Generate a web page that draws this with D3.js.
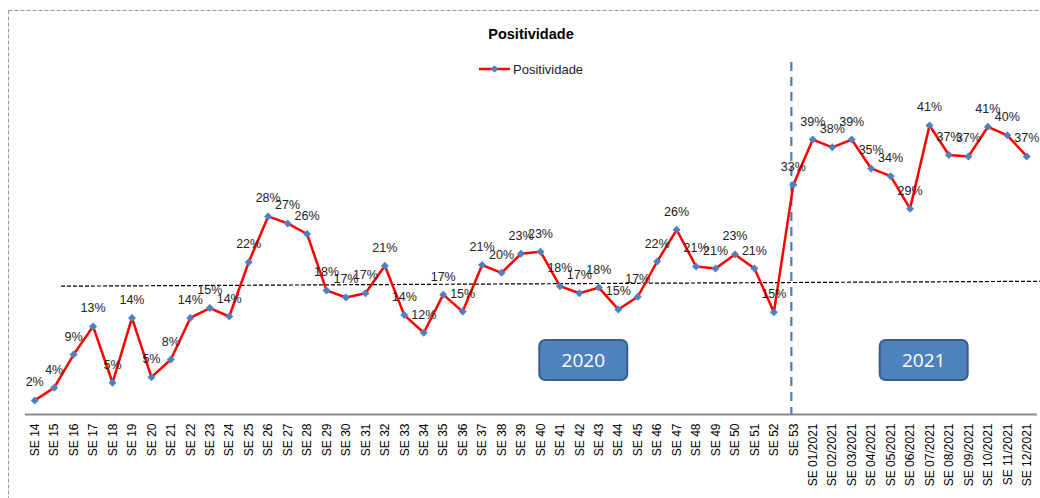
<!DOCTYPE html>
<html>
<head>
<meta charset="utf-8">
<script src="https://cdn.jsdelivr.net/npm/d3@7"></script>
<style>
  html, body { margin: 0; padding: 0; background: #fff; }
  svg { display: block; font-family: "Liberation Sans", Arial, sans-serif; }
</style>
</head>
<body>
<script>
// epidemiological weeks
const weeks = [
  "SE 14", "SE 15", "SE 16", "SE 17", "SE 18", "SE 19", "SE 20", "SE 21", "SE 22", "SE 23",
  "SE 24", "SE 25", "SE 26", "SE 27", "SE 28", "SE 29", "SE 30", "SE 31", "SE 32", "SE 33",
  "SE 34", "SE 35", "SE 36", "SE 37", "SE 38", "SE 39", "SE 40", "SE 41", "SE 42", "SE 43",
  "SE 44", "SE 45", "SE 46", "SE 47", "SE 48", "SE 49", "SE 50", "SE 51", "SE 52", "SE 53",
  "SE 01/2021", "SE 02/2021", "SE 03/2021", "SE 04/2021", "SE 05/2021", "SE 06/2021",
  "SE 07/2021", "SE 08/2021", "SE 09/2021", "SE 10/2021", "SE 11/2021", "SE 12/2021"
];

// positivity (%) per week
const positividade = [
  2.0, 3.8, 8.5, 12.5, 4.5, 13.7, 5.3, 7.8, 13.7, 15.1,
  13.9, 21.6, 28.1, 27.1, 25.6, 17.6, 16.6, 17.2, 21.1, 14.1,
  11.6, 17.0, 14.6, 21.2, 20.1, 22.8, 23.1, 18.2, 17.2, 18.0,
  14.9, 16.7, 21.7, 26.2, 21.0, 20.7, 22.7, 20.7, 14.5, 32.6,
  39.0, 37.9, 39.0, 34.9, 33.8, 29.2,
  41.0, 36.8, 36.6, 40.8, 39.6, 36.6
];

// dashed reference line (index along weeks, value %)
const refLine = [
  { i: 1.35, v: 18.2 },
  { i: 51.8, v: 18.9 }
];

const yearBoxes = [
  { label: "2020", i: 28.2 },
  { label: "2021", i: 45.7 }
];

const splitWeek = "SE 53";

const width = 1040, height = 498;

const svg = d3.select("body").append("svg")
  .attr("width", width)
  .attr("height", height);

// chart area border (dashed)
svg.append("rect")
  .attr("x", 8.5).attr("y", 10.5)
  .attr("width", 1100).attr("height", 600)
  .attr("fill", "none")
  .attr("stroke", "#9a9a9a")
  .attr("stroke-width", 1)
  .attr("stroke-dasharray", "4,2");

const x = d3.scaleBand()
  .domain(weeks)
  .range([25, 1036.5]);

const xi = d3.scaleLinear()
  .domain([0, weeks.length - 1])
  .range([x(weeks[0]) + x.bandwidth() / 2, x(weeks[weeks.length - 1]) + x.bandwidth() / 2]);

const y = d3.scaleLinear()
  .domain([0, 40])
  .range([414.5, 132.5]);

const cx = d => x(d) + x.bandwidth() / 2;

// title
svg.append("text")
  .attr("x", 531).attr("y", 39)
  .attr("text-anchor", "middle")
  .attr("font-size", 14.5)
  .attr("font-weight", "bold")
  .attr("fill", "#000")
  .text("Positividade");

// legend
const legend = svg.append("g").attr("transform", "translate(479,69)");
legend.append("line")
  .attr("x1", 0).attr("x2", 31)
  .attr("stroke", "#ff0000").attr("stroke-width", 2.5);
legend.append("path")
  .attr("d", d3.symbol(d3.symbolSquare, 30)())
  .attr("transform", "translate(15.5,0) rotate(45)")
  .attr("fill", "#4f81bd");
legend.append("text")
  .attr("x", 34).attr("y", 5)
  .attr("font-size", 13)
  .attr("fill", "#222")
  .text("Positividade");

// x axis
const xAxis = svg.append("g")
  .attr("transform", `translate(0,${y(0)})`)
  .call(d3.axisBottom(x).tickSize(0).tickPadding(0));
xAxis.select(".domain")
  .attr("stroke", "#8c8c8c")
  .attr("stroke-width", 2)
  .attr("d", `M25,0H1037`);
xAxis.selectAll("text")
  .attr("font-family", "Liberation Sans, Arial, sans-serif")
  .attr("font-size", 12)
  .attr("fill", "#000")
  .attr("text-anchor", "end")
  .attr("transform", "rotate(-90)")
  .attr("x", -9)
  .attr("y", 0)
  .attr("dy", "0.35em");

// dashed reference line
svg.append("line")
  .attr("x1", xi(refLine[0].i)).attr("y1", y(refLine[0].v))
  .attr("x2", xi(refLine[1].i)).attr("y2", y(refLine[1].v))
  .attr("stroke", "#000")
  .attr("stroke-width", 1.2)
  .attr("stroke-dasharray", "4,2");

// vertical year separator
svg.append("line")
  .attr("x1", cx(splitWeek) - 2).attr("x2", cx(splitWeek) - 2)
  .attr("y1", 62).attr("y2", y(0))
  .attr("stroke", "#4a7ebb")
  .attr("stroke-width", 2.2)
  .attr("stroke-dasharray", "9,6");

// year boxes
const boxes = svg.append("g").selectAll("g")
  .data(yearBoxes)
  .join("g")
  .attr("transform", d => `translate(${xi(d.i)},${360})`);
boxes.append("rect")
  .attr("x", -44).attr("y", -20)
  .attr("width", 88).attr("height", 40)
  .attr("rx", 6)
  .attr("fill", "#4f81bd")
  .attr("stroke", "#385d8a")
  .attr("stroke-width", 2);
boxes.append("text")
  .attr("text-anchor", "middle")
  .attr("y", 7)
  .attr("font-size", 19)
  .attr("font-family", "Open Sans, sans-serif")
  .attr("fill", "#fff")
  .text(d => d.label);

// series line
const pts = weeks.map((w, i) => ({ w, v: positividade[i] }));

svg.append("path")
  .datum(pts)
  .attr("fill", "none")
  .attr("stroke", "#ff0000")
  .attr("stroke-width", 2.5)
  .attr("stroke-linejoin", "round")
  .attr("d", d3.line().x(d => cx(d.w)).y(d => y(d.v)));

// markers
svg.append("g").selectAll("path")
  .data(pts)
  .join("path")
  .attr("d", d3.symbol(d3.symbolSquare, 32)())
  .attr("transform", d => `translate(${cx(d.w)},${y(d.v)}) rotate(45)`)
  .attr("fill", "#4f81bd");

// data labels
svg.append("g").selectAll("text")
  .data(pts)
  .join("text")
  .attr("x", d => cx(d.w))
  .attr("y", d => y(d.v) - 14)
  .attr("text-anchor", "middle")
  .attr("font-size", 12.5)
  .attr("fill", "#222")
  .text(d => Math.round(d.v) + "%");
</script>
</body>
</html>
